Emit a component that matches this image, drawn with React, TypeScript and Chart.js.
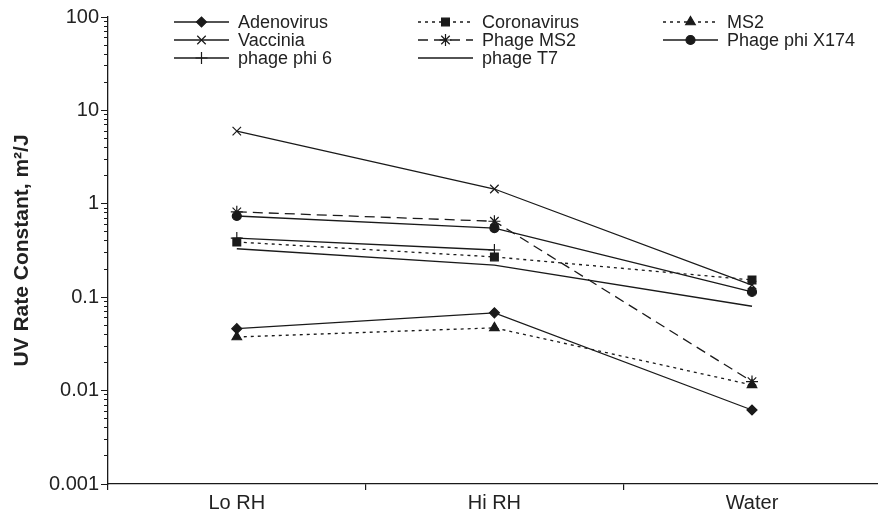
import React, { useEffect, useRef } from 'react';
import { Chart, registerables } from 'chart.js';
import { drawPoint } from 'chart.js/helpers';

Chart.register(...registerables);

const categories = ['Lo RH', 'Hi RH', 'Water'];
const adenovirus = [0.046, 0.068, 0.0062];
const coronavirus = [0.39, 0.27, 0.153];
const ms2 = [0.0375, 0.047, 0.0115];
const vaccinia = [6.0, 1.44, 0.135];
const phageMS2 = [0.82, 0.65, 0.0125];
const phagePhiX174 = [0.74, 0.55, 0.114];
const phagePhi6 = [0.43, 0.32, null];
const phageT7 = [0.33, 0.22, 0.08];
const yDecades = [0.001, 0.01, 0.1, 1, 10, 100];
const yMinorMultipliers = [2, 3, 4, 5, 6, 7, 8, 9];

const FONT = '"Liberation Sans", Arial, Helvetica, sans-serif';
const INK = '#1a1a1a';

const legendPlugin = {
  id: 'gridLegend',
  afterDraw(chart: any) {
    const ctx = chart.ctx;
    const cols = [174, 418, 663];
    const rows = [22, 40, 58];
    chart.data.datasets.forEach((ds: any, i: number) => {
      const x0 = cols[i % 3];
      const y = rows[Math.floor(i / 3)];
      ctx.save();
      ctx.strokeStyle = INK;
      ctx.fillStyle = INK;
      ctx.lineWidth = ds.borderWidth;
      ctx.setLineDash(ds.borderDash || []);
      ctx.beginPath();
      ctx.moveTo(x0, y);
      ctx.lineTo(x0 + 55, y);
      ctx.stroke();
      ctx.setLineDash([]);
      if (ds.pointRadius > 0) {
        ctx.lineWidth = ds.pointBorderWidth;
        drawPoint(ctx, { pointStyle: ds.pointStyle, radius: ds.pointRadius, borderWidth: ds.pointBorderWidth, rotation: 0 } as any, x0 + 27.5, y);
      }
      ctx.fillStyle = '#222';
      ctx.font = '18px ' + FONT;
      ctx.textBaseline = 'middle';
      ctx.textAlign = 'left';
      ctx.fillText(ds.label, x0 + 64, y + 1);
      ctx.restore();
    });
  },
};

function mk(label: string, data: (number | null)[], dash: number[], style: any, radius: number) {
  return {
    label,
    data,
    yAxisID: 'y',
    borderColor: INK,
    backgroundColor: INK,
    pointBackgroundColor: INK,
    pointBorderColor: INK,
    borderWidth: 1.3,
    pointBorderWidth: 1.2,
    borderDash: dash,
    pointStyle: style,
    pointRadius: radius,
    pointHoverRadius: radius,
    tension: 0,
    spanGaps: false,
    fill: false,
  };
}

const decadeLabel = (v: any) => {
  const l = Math.log10(Number(v));
  if (Math.abs(l - Math.round(l)) < 1e-6) {
    const d = yDecades.find((x) => Math.abs(Math.log10(x) - l) < 1e-6);
    return d !== undefined ? String(d) : '';
  }
  return '';
};

export default function App() {
  const ref = useRef<HTMLCanvasElement | null>(null);
  useEffect(() => {
    if (!ref.current) return;
    const chart = new Chart(ref.current, {
      type: 'line',
      data: {
        labels: categories,
        datasets: [
          mk('Adenovirus', adenovirus, [], 'rectRot', 5),
          mk('Coronavirus', coronavirus, [3, 4], 'rect', 5.5),
          mk('MS2', ms2, [3, 4], 'triangle', 5.5),
          mk('Vaccinia', vaccinia, [], 'crossRot', 6),
          mk('Phage MS2', phageMS2, [10, 6], 'star', 6),
          mk('Phage phi X174', phagePhiX174, [], 'circle', 4.5),
          mk('phage phi 6', phagePhi6, [], 'cross', 6),
          mk('phage T7', phageT7, [], 'circle', 0),
        ],
      },
      options: {
        animation: false,
        responsive: true,
        maintainAspectRatio: false,
        devicePixelRatio: 1,
        layout: { padding: { top: 17, left: 8, right: 0, bottom: 0 } },
        plugins: { legend: { display: false }, tooltip: { enabled: false } },
        scales: {
          x: {
            type: 'category',
            offset: true,
            afterFit: (s: any) => { s.paddingLeft = 0; s.paddingRight = 0; },
            grid: { offset: true, drawOnChartArea: false, tickLength: 6, color: INK, lineWidth: 1.2 },
            border: { color: INK, width: 1.3 },
            ticks: { color: '#222', font: { family: FONT, size: 20 }, padding: 1, maxRotation: 0 },
          },
          y: {
            type: 'logarithmic',
            position: 'left',
            weight: 1,
            min: 0.001,
            max: 100,
            afterFit: (s: any) => { s.width = 100; },
            afterBuildTicks: (s: any) => {
              s.ticks = yDecades.map((d) => ({ value: d, major: true }));
            },
            grid: { drawOnChartArea: false, tickLength: 7, color: INK, lineWidth: 1 },
            border: { color: INK, width: 1.3 },
            ticks: {
              autoSkip: false,
              color: '#222',
              font: { family: FONT, size: 20 },
              padding: 2,
              callback: decadeLabel,
            },
            title: { display: true, text: 'UV Rate Constant, m²/J', color: '#222', font: { family: FONT, size: 21, weight: 'bold' }, padding: { top: 2, bottom: 0 } },
          },
          yMinor: {
            type: 'logarithmic',
            position: 'left',
            weight: 0,
            min: 0.001,
            max: 100,
            afterFit: (s: any) => { s.width = 0; },
            afterBuildTicks: (s: any) => {
              const t: any[] = [];
              yDecades.slice(0, -1).forEach((d) => {
                yMinorMultipliers.forEach((m) => t.push({ value: +(d * m).toPrecision(6) }));
              });
              s.ticks = t;
            },
            grid: { drawOnChartArea: false, tickLength: 4, color: INK, lineWidth: 1 },
            border: { display: false },
            ticks: { autoSkip: false, display: false },
          },
        },
      },
      plugins: [legendPlugin],
    } as any);
    return () => chart.destroy();
  }, []);
  return (
    <div style={{ position: 'fixed', left: 0, top: 0, width: 878, height: 516, overflow: 'hidden', background: '#fff' }}>
      <div style={{ position: 'relative', width: 888, height: 516 }}>
        <canvas ref={ref} />
      </div>
    </div>
  );
}
